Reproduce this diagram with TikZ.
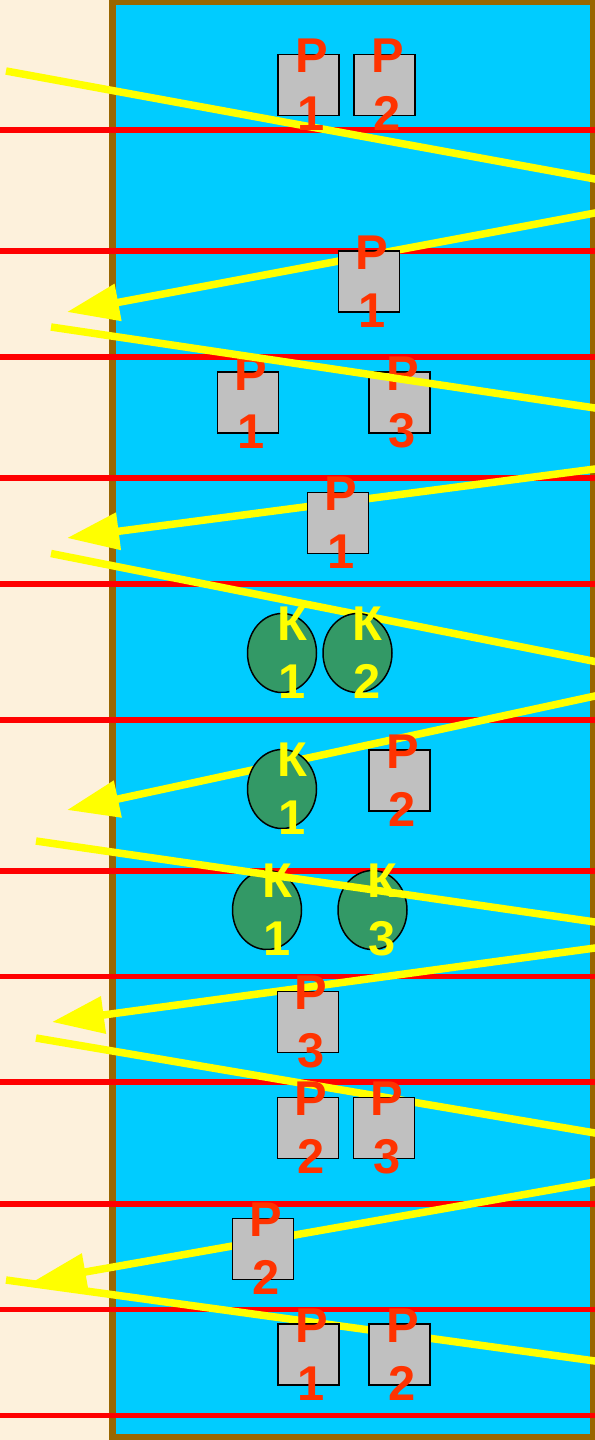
\documentclass[tikz,border=0pt]{standalone}
\usepackage{fontspec}
\usetikzlibrary{arrows.meta,shapes.geometric}
\newfontfamily\plakfont{Liberation Sans}
\definecolor{sand}{RGB}{253,241,220}
\definecolor{pool}{RGB}{0,204,255}
\definecolor{rim}{RGB}{153,102,0}
\definecolor{rope}{RGB}{255,0,0}
\definecolor{swim}{RGB}{255,255,0}
\definecolor{tile}{RGB}{192,192,192}
\definecolor{redmark}{RGB}{255,51,0}
\definecolor{kelp}{RGB}{51,153,102}

\begin{document}
\begin{tikzpicture}[x=1bp,y=-1bp,
        lane/.style={rope,line width=5.5bp},
        pass/.style={swim,line width=7.5bp,shorten >=-8bp},
        pass back/.style={swim,line width=7.5bp,shorten <=-8bp,-{Triangle[length=52bp,width=36bp]}},
        block/.style={draw=black,fill=tile,line width=1.5bp,minimum width=61bp,minimum height=61bp,inner sep=0pt},
        disc/.style={ellipse,draw=black,fill=kelp,line width=1.5bp,minimum width=69bp,minimum height=79bp,inner sep=0pt},
        block text/.style={text=redmark,font={\plakfont\bfseries\fontsize{49}{58}\selectfont},align=center,inner sep=0pt,xshift=3bp},
        disc text/.style={block text,text=swim,xshift=7bp}]
    \clip (0,0) rectangle (595,1440);
    \fill[sand] (0,0) rectangle (595,1440);
    \draw[rim,fill=pool,line width=7bp] (112,1.5) rectangle (593.5,1437.5);
    % lane ropes
    \foreach \y in {130,251,357,478,584,720,871,976.5,1082,1204,1309.5,1415.5}
        \draw[lane] (0,\y) -- (595,\y);
    % swimmer paths below the figures
    \draw[pass] (6,71) -- (595,179);
    \draw[pass back] (595,213) -- (67,312);
    \draw[pass back] (595,469) -- (67,538);
    \draw[pass] (51,553.5) -- (595,661.5);
    \draw[pass back] (595,696) -- (67,810);
    \draw[pass back] (595,948) -- (52,1022);
    \draw[pass] (36,1038) -- (595,1133);
    \draw[pass back] (595,1182) -- (34,1281);
    \draw[pass] (6,1280) -- (595,1361);
    % figures
    \foreach \n/\x/\y/\d in {1a/308.5/85/1,1b/384.5/85/2,2/369/281.5/1,3a/248/402.5/1,3b/399.5/402.5/3,
            4/338/523/1,6/399.5/780.5/2,8/308/1022/3,9a/308/1128/2,9b/384/1128/3,10/263/1249/2,
            11a/308.5/1354.5/1,11b/399.5/1354.5/2} {
        \node[block] (p\n) at (\x,\y) {};
        \node[block text] (p\n t) at (p\n) {Р\\\d};
    }
    \foreach \n/\x/\y/\d in {5a/282/653/1,5b/357.5/653/2,6/282/789/1,7a/267/910/1,7b/372.5/910/3} {
        \node[disc] (k\n) at (\x,\y) {};
        \node[disc text] (k\n t) at (k\n) {К\\\d};
    }
    % swimmer paths over the figures
    \draw[pass] (51,327) -- (595,408);
    \draw[pass] (36,841) -- (595,922);
\end{tikzpicture}
\end{document}
